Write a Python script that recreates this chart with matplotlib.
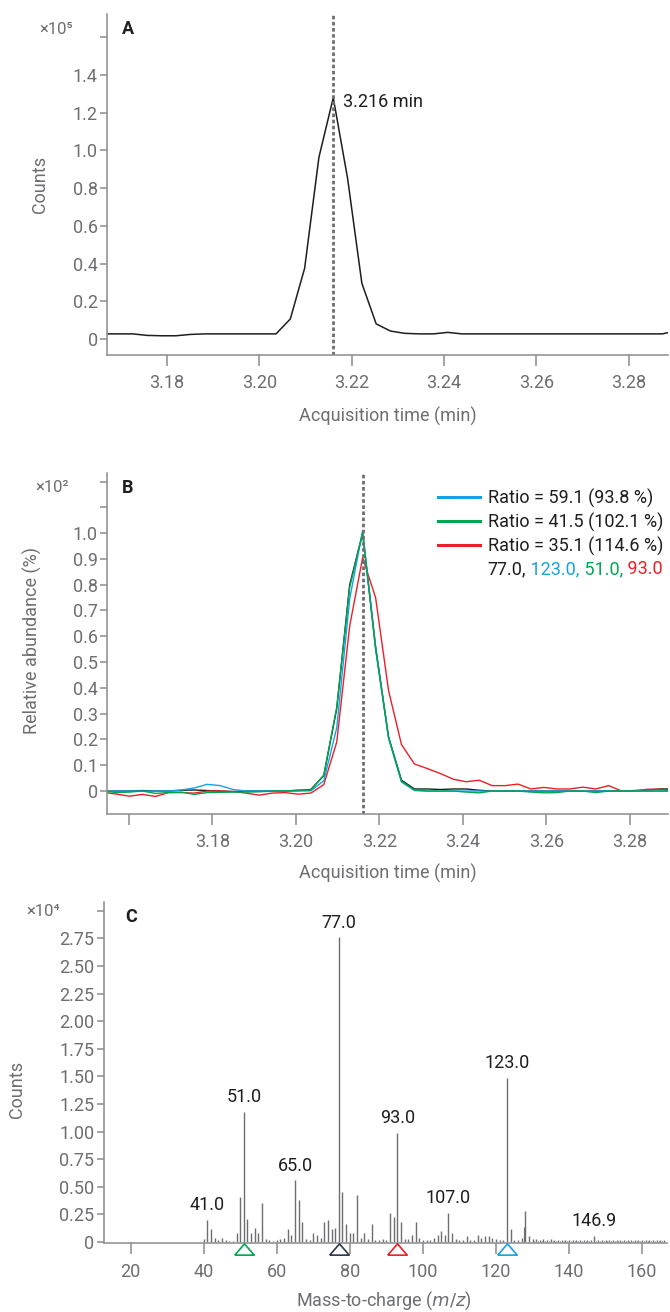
import numpy as np
import matplotlib.pyplot as plt
from matplotlib.transforms import blended_transform_factory

plt.rcParams['font.family'] = ['Roboto', 'DejaVu Sans']

GRIS = '#6d6e71'
EJE = '#8a8c8f'
NEGRO = '#1e1e1e'
AZUL = '#16a2e2'
VERDE = '#00a651'
ROJO = '#ec1f26'
MARINO = '#2c3846'

# ---------------- A y B: tiempo de adquisicion (min) ----------------
tiempo = [3.1540, 3.1571, 3.1602, 3.1633, 3.1664, 3.1695, 3.1726, 3.1757, 3.1788, 3.1819,
          3.1850, 3.1881, 3.1912, 3.1943, 3.1974, 3.2005, 3.2036, 3.2067, 3.2098, 3.2129,
          3.2160, 3.2191, 3.2222, 3.2253, 3.2284, 3.2315, 3.2346, 3.2377, 3.2408, 3.2439,
          3.2470, 3.2501, 3.2532, 3.2563, 3.2594, 3.2625, 3.2656, 3.2687, 3.2718, 3.2749,
          3.2780, 3.2811, 3.2842, 3.2873, 3.2904]
tiempo_pico = 3.216

# cuentas totales, x10^5
tic = [0.027, 0.027, 0.027, 0.027, 0.027, 0.027, 0.027, 0.019, 0.017, 0.017,
       0.024, 0.027, 0.027, 0.027, 0.027, 0.027, 0.027, 0.106, 0.375, 0.964,
       1.280, 0.853, 0.295, 0.080, 0.042, 0.030, 0.027, 0.027, 0.035, 0.027,
       0.027, 0.027, 0.027, 0.027, 0.027, 0.027, 0.027, 0.027, 0.027, 0.027,
       0.027, 0.027, 0.027, 0.027, 0.045]

# abundancia relativa, x10^2 %
ion_77 = [0, 0, 0, 0.002, 0, 0, 0.003, 0.004, 0.002, 0,
          -0.002, 0, 0, 0, 0, 0.002, 0.006, 0.060, 0.320, 0.800,
          1.000, 0.560, 0.210, 0.042, 0.008, 0.008, 0.006, 0.008, 0.008, 0.003,
          0, 0, 0, 0, 0, 0, 0, 0, 0, 0,
          0, 0.002, 0.004, 0.008, 0.008]
ion_123 = [0, 0, 0, 0, 0, 0, 0.004, 0.012, 0.026, 0.021,
           0.006, 0, 0, 0, 0, 0, 0.001, 0.040, 0.245, 0.745,
           1.010, 0.555, 0.205, 0.035, 0.002, 0, 0, 0, 0, 0,
           0, 0, 0, 0, 0, 0, 0, 0, 0, 0,
           0, 0, 0, 0, 0]
ion_51 = [0, -0.006, -0.004, 0, -0.009, -0.006, -0.004, -0.013, -0.006, -0.005,
          -0.004, -0.004, -0.003, 0, 0, 0.004, 0.004, 0.062, 0.325, 0.790,
          1.000, 0.550, 0.208, 0.038, 0.004, 0, 0, 0, -0.004, -0.007,
          0, 0, 0, -0.004, -0.007, -0.006, 0, 0, -0.006, 0,
          0, 0, 0, 0, 0]
ion_93 = [-0.005, -0.012, -0.020, -0.013, -0.021, -0.006, -0.006, -0.008, 0, 0,
          -0.002, -0.008, -0.016, -0.008, -0.006, -0.012, -0.008, 0.025, 0.190, 0.640,
          0.905, 0.750, 0.390, 0.180, 0.105, 0.087, 0.068, 0.046, 0.036, 0.042,
          0.021, 0.021, 0.027, 0.008, 0.014, 0.008, 0.008, 0.015, 0.008, 0.021,
          0, 0, 0.007, 0.007, 0]
etiquetas_ratio = ['Ratio = 59.1 (93.8 %)', 'Ratio = 41.5 (102.1 %)', 'Ratio = 35.1 (114.6 %)']

# ---------------- C: espectro de masas, x10^4 cuentas ----------------
mz = [40, 41, 42, 43, 44, 45, 46, 47, 48, 49,
      50, 51, 52, 53, 54, 55, 56, 57, 58, 59,
      60, 61, 62, 63, 64, 65, 66, 67, 68, 69,
      70, 71, 72, 73, 74, 75, 76, 77, 78, 79,
      80, 81, 82, 83, 84, 85, 86, 87, 88, 89,
      90, 91, 92, 93, 94, 95, 96, 97, 98, 99,
      100, 101, 102, 103, 104, 105, 106, 107, 108, 109,
      110, 111, 112, 113, 114, 115, 116, 117, 118, 119,
      120, 121, 122, 123, 124, 125, 126, 127, 128, 129,
      130, 131, 132, 133, 134, 135, 136, 137, 138, 139,
      140, 141, 142, 143, 144, 145, 146, 146.9, 148, 149,
      150, 151, 152, 153, 154, 155, 156, 157, 158, 159,
      160, 161, 162, 163, 164, 165, 166]
cuentas = [0.03, 0.20, 0.115, 0.04, 0.02, 0.036, 0.015, 0.012, 0.01, 0.08,
           0.41, 1.18, 0.21, 0.08, 0.13, 0.08, 0.35, 0.03, 0.015, 0.01,
           0.015, 0.03, 0.04, 0.115, 0.06, 0.56, 0.38, 0.18, 0.03, 0.02,
           0.08, 0.06, 0.04, 0.18, 0.20, 0.115, 0.13, 2.76, 0.45, 0.16,
           0.08, 0.08, 0.43, 0.04, 0.08, 0.03, 0.16, 0.015, 0.015, 0.03,
           0.015, 0.26, 0.23, 0.99, 0.18, 0.03, 0.03, 0.06, 0.18, 0.04,
           0.02, 0.015, 0.02, 0.04, 0.06, 0.10, 0.06, 0.265, 0.08, 0.03,
           0.015, 0.015, 0.05, 0.02, 0.015, 0.06, 0.04, 0.05, 0.05, 0.04,
           0.03, 0.02, 0.02, 1.49, 0.115, 0.02, 0.02, 0.04, 0.28, 0.05,
           0.03, 0.03, 0.02, 0.03, 0.02, 0.025, 0.015, 0.02, 0.015, 0.02,
           0.015, 0.02, 0.02, 0.015, 0.02, 0.015, 0.02, 0.054, 0.02, 0.015,
           0.02, 0.015, 0.02, 0.015, 0.02, 0.015, 0.02, 0.015, 0.02, 0.015,
           0.02, 0.015, 0.02, 0.015, 0.02, 0.015, 0.02]
# picos chicos entre masas enteras
mz_ruido = [127.8, 130.5, 131.5, 132.5, 133.5, 134.5, 135.5, 136.5, 137.5, 138.5,
            139.5, 140.5, 141.5, 142.5, 143.5, 144.5, 145.5, 147.5, 148.5, 149.5,
            150.5, 151.5, 152.5, 153.5, 154.5, 155.5, 156.5, 157.5, 158.5, 159.5,
            160.5, 161.5, 162.5, 163.5, 164.5, 165.5]
cuentas_ruido = [0.135, 0.012, 0.01, 0.012, 0.008, 0.01, 0.012, 0.008, 0.01, 0.012,
                 0.008, 0.01, 0.012, 0.008, 0.01, 0.012, 0.008, 0.01, 0.012, 0.008,
                 0.01, 0.012, 0.008, 0.01, 0.012, 0.008, 0.01, 0.012, 0.008, 0.01,
                 0.012, 0.008, 0.01, 0.012, 0.008, 0.01]
mz_etiquetas = [41.0, 51.0, 65.0, 77.0, 93.0, 107.0, 123.0, 146.9]
mz_iones = [51.0, 77.0, 93.0, 123.0]
colores_iones = [VERDE, MARINO, ROJO, AZUL]

W, H = 670, 1312


def caja(izq, der, arriba, abajo):
    return [izq / W, 1 - abajo / H, (der - izq) / W, (abajo - arriba) / H]


def estilo(ax):
    for lado in ['top', 'right']:
        ax.spines[lado].set_visible(False)
    for lado in ['left', 'bottom']:
        ax.spines[lado].set_color(EJE)
        ax.spines[lado].set_linewidth(1.1)
    ax.tick_params(axis='y', colors=EJE, labelcolor=GRIS, labelsize=13, length=5, width=1.1, pad=1.5)
    ax.tick_params(axis='x', colors=EJE, labelcolor=GRIS, labelsize=13, length=8, width=1.1, pad=6)


def textos(valores, fmt, vacio=()):
    # '0' sin decimales, y algunas marcas sin texto
    out = []
    for v in valores:
        if v in vacio:
            out.append('')
        elif v == 0:
            out.append('0')
        else:
            out.append(fmt.format(v))
    return out


fig = plt.figure(figsize=(W / 100, H / 100), dpi=100)
axA = fig.add_axes(caja(107, 668, 14, 355))
axB = fig.add_axes(caja(107, 668, 473, 814))
axC = fig.add_axes(caja(103.5, 667, 901.7, 1243.3))
for ax in [axA, axB, axC]:
    estilo(ax)

# ---- A
axA.plot(tiempo, tic, color=NEGRO, lw=1.1)
axA.axvline(tiempo_pico, color=GRIS, lw=2, ls=(0, (1.3, 0.9)))
axA.set_xlim(3.167, 3.2885)
axA.set_ylim(-0.085, 1.724)
ticks_a = [0, 0.2, 0.4, 0.6, 0.8, 1.0, 1.2, 1.4, 1.6]
axA.set_yticks(ticks_a, textos(ticks_a, '{:.1f}', vacio=(1.6,)))
ticks_t = [3.18, 3.20, 3.22, 3.24, 3.26, 3.28]
axA.set_xticks(ticks_t, textos(ticks_t, '{:.2f}'))
axA.annotate(f'{tiempo_pico:.3f} min', xy=(tiempo_pico, max(tic)), xytext=(7, -3),
             textcoords='offset points', va='center', ha='left', fontsize=13, color=NEGRO)
axA.set_ylabel('Counts', fontsize=13, color=GRIS)
axA.set_xlabel('Acquisition time (min)', fontsize=13, color=GRIS)
axA.yaxis.set_label_coords(-0.103, 0.5)
axA.xaxis.set_label_coords(0.5, -0.152)

# ---- B
axB.plot(tiempo, ion_77, color=NEGRO, lw=1)
l_r, = axB.plot(tiempo, ion_93, color=ROJO, lw=1, label=etiquetas_ratio[2])
l_b, = axB.plot(tiempo, ion_123, color=AZUL, lw=1, label=etiquetas_ratio[0])
l_g, = axB.plot(tiempo, ion_51, color=VERDE, lw=1, label=etiquetas_ratio[1])
axB.axvline(tiempo_pico, color=GRIS, lw=2, ls=(0, (1.3, 0.9)))
axB.set_xlim(3.1548, 3.2891)
axB.set_ylim(-0.089, 1.233)
ticks_b = [0, 0.1, 0.2, 0.3, 0.4, 0.5, 0.6, 0.7, 0.8, 0.9, 1.0, 1.1, 1.2]
axB.set_yticks(ticks_b, textos(ticks_b, '{:.1f}', vacio=(1.1, 1.2)))
ticks_tb = [3.16] + ticks_t
axB.set_xticks(ticks_tb, textos(ticks_tb, '{:.2f}', vacio=(3.16,)))
axB.set_ylabel('Relative abundance (%)', fontsize=13, color=GRIS)
axB.set_xlabel('Acquisition time (min)', fontsize=13, color=GRIS)
axB.yaxis.set_label_coords(-0.116, 0.51)
axB.xaxis.set_label_coords(0.5, -0.147)

ley = axB.legend(handles=[l_b, l_g, l_r], loc='upper left', bbox_to_anchor=(0.59, 0.955),
                 frameon=False, fontsize=13, handlelength=2.3, handletextpad=0.45,
                 labelspacing=0.28, borderpad=0, borderaxespad=0)
for linea in ley.get_lines():
    linea.set_linewidth(2.2)
for t in ley.get_texts():
    t.set_color(NEGRO)

# renglon con las masas en colores (zorder mayor que la leyenda, para que se dibuje despues)
partes = [('77.0,', NEGRO), (' 123.0,', AZUL), (' 51.0,', VERDE), (' 93.0', ROJO)]
previo = axB.annotate(partes[0][0], xy=(0, 0), xycoords=ley.get_texts()[2], xytext=(0, -3),
                      textcoords='offset points', va='top', ha='left', fontsize=13,
                      color=partes[0][1], zorder=7)
for s, c in partes[1:]:
    previo = axB.annotate(s, xy=(1, 0), xycoords=previo, va='bottom', ha='left',
                          fontsize=13, color=c, zorder=7)

# ---- C
axC.vlines(mz, 0, cuentas, color=GRIS, lw=1)
axC.vlines(mz_ruido, 0, cuentas_ruido, color=GRIS, lw=0.8)
for m in mz_etiquetas:
    alto = cuentas[mz.index(m)]
    axC.annotate(f'{m:.1f}', xy=(m, alto), xytext=(0, 4), textcoords='offset points',
                 ha='center', va='bottom', fontsize=13, color=NEGRO)
trans = blended_transform_factory(axC.transData, axC.transAxes)
triangulo = [(-1, -0.58), (1, -0.58), (0, 0.58), (-1, -0.58)]
for m, c in zip(mz_iones, colores_iones):
    axC.plot([m], [-0.016], transform=trans, marker=triangulo, ms=14, mfc='white',
             mec=c, mew=1.2, ls='none', clip_on=False, zorder=5)
axC.set_xlim(12.6, 166.8)
axC.set_ylim(-0.012, 3.083)
ticks_c = [0, 0.25, 0.5, 0.75, 1.0, 1.25, 1.5, 1.75, 2.0, 2.25, 2.5, 2.75, 3.0]
axC.set_yticks(ticks_c, textos(ticks_c, '{:.2f}', vacio=(3.0,)))
ticks_mz = [20, 40, 60, 80, 100, 120, 140, 160]
axC.set_xticks(ticks_mz, [str(v) for v in ticks_mz])
axC.set_ylabel('Counts', fontsize=13, color=GRIS)
axC.set_xlabel('Mass-to-charge ($m/z$)', fontsize=13, color=GRIS)
axC.yaxis.set_label_coords(-0.1375, 0.449)
axC.xaxis.set_label_coords(0.498, -0.136)

# escalas y letras de panel
for x, y, s in [(56, 29, '×10⁵'), (52, 488, '×10²'), (43, 911, '×10⁴')]:
    fig.text(x / W, 1 - y / H, s, ha='center', va='center', fontsize=12, color=GRIS)
for x, y, s in [(128, 29, 'A'), (128, 488, 'B'), (131, 917, 'C')]:
    fig.text(x / W, 1 - y / H, s, ha='center', va='center', fontsize=13, fontweight='bold', color=NEGRO)

fig.canvas.draw()
fig.savefig('out.png', dpi=100)
